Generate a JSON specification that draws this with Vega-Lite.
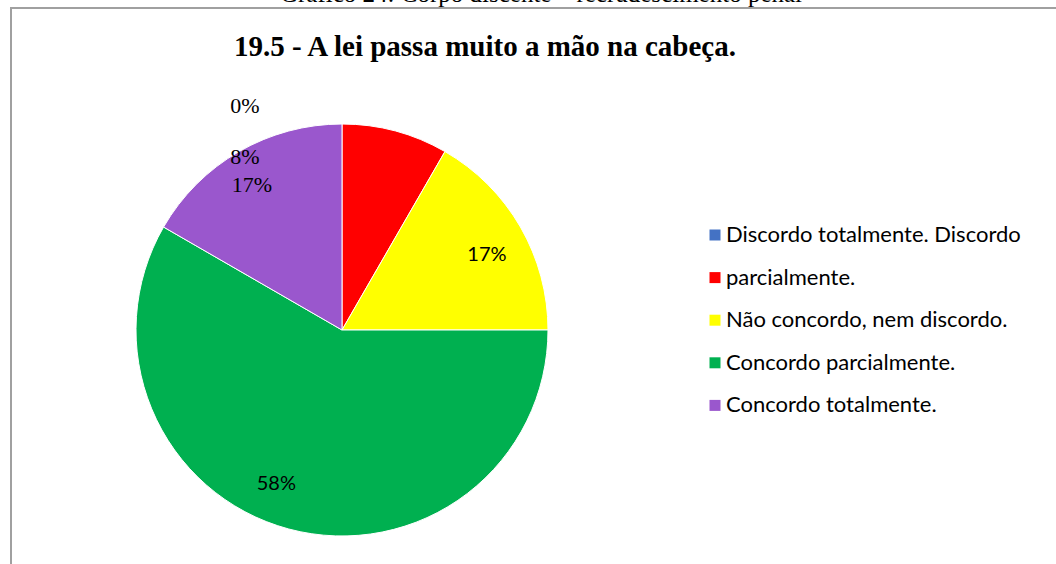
{
  "$schema": "https://vega.github.io/schema/vega-lite/v6.json",
  "padding": {"left": 10, "top": -18, "right": 0, "bottom": 0},
  "background": "white",
  "title": {"text": "Gráfico 24: Corpo discente – recrudescimento penal", "font": "Liberation Serif", "fontSize": 25, "fontWeight": "normal", "color": "black", "anchor": "middle", "offset": 0},
  "datasets": {
    "d": [
      {"cat": "Discordo totalmente.", "ord": 1, "pct": 0},
      {"cat": "Discordo parcialmente.", "ord": 2, "pct": 0.0833},
      {"cat": "Não concordo, nem discordo.", "ord": 3, "pct": 0.1667},
      {"cat": "Concordo parcialmente.", "ord": 4, "pct": 0.5833},
      {"cat": "Concordo totalmente.", "ord": 5, "pct": 0.1667}
    ]
  },
  "vconcat": [
    {
      "width": 1060,
      "height": 580,
      "view": {"stroke": "#a0a0a0", "strokeWidth": 2},
      "title": {"text": "19.5 - A lei passa muito a mão na cabeça.", "font": "Liberation Serif", "fontSize": 29, "fontWeight": "bold", "color": "black", "anchor": "middle", "offset": -54, "dx": -56},
      "data": {"name": "d"},
      "encoding": {
        "theta": {"field": "pct", "type": "quantitative", "stack": true},
        "order": {"field": "ord", "type": "quantitative"}
      },
      "layer": [
        {
          "mark": {"type": "arc", "x": 331, "y": 322, "outerRadius": 206, "stroke": "white", "strokeWidth": 1},
          "encoding": {
            "color": {
              "field": "cat",
              "type": "nominal",
              "scale": {
                "domain": ["Discordo totalmente.", "Discordo parcialmente.", "Não concordo, nem discordo.", "Concordo parcialmente.", "Concordo totalmente."],
                "range": ["#4472C4", "#FF0000", "#FFFF00", "#00B050", "#9A57CD"]
              },
              "legend": {
                "orient": "none",
                "legendX": 693,
                "legendY": 216,
                "direction": "vertical",
                "title": null,
                "padding": 0,
                "labelFont": "Lato",
                "labelFontSize": 22,
                "labelColor": "black",
                "labelLimit": 500,
                "labelOffset": 0,
                "symbolType": "square",
                "symbolSize": 121,
                "symbolStrokeWidth": 0,
                "rowPadding": 20.6,
                "labelExpr": "datum.label === 'Discordo totalmente.' ? 'Discordo totalmente. Discordo' : datum.label === 'Discordo parcialmente.' ? 'parcialmente.' : datum.label"
              }
            }
          }
        },
        {
          "mark": {"type": "text", "x": 331, "y": 322, "radius": 170, "font": "Liberation Serif", "fontSize": 22, "color": "black", "dx": -97, "dy": -54},
          "encoding": {"text": {"condition": {"test": "datum.cat === 'Discordo totalmente.'", "field": "pct", "format": ".0%"}, "value": ""}}
        },
        {
          "mark": {"type": "text", "x": 331, "y": 322, "radius": 170, "font": "Liberation Serif", "fontSize": 22, "color": "black", "dx": -141, "dy": -9},
          "encoding": {"text": {"condition": {"test": "datum.cat === 'Discordo parcialmente.'", "field": "pct", "format": ".0%"}, "value": ""}}
        },
        {
          "mark": {"type": "text", "x": 331, "y": 322, "radius": 170, "font": "Liberation Serif", "fontSize": 22, "color": "black", "dx": -5, "dy": 2},
          "encoding": {"text": {"condition": {"test": "datum.cat === 'Concordo totalmente.'", "field": "pct", "format": ".0%"}, "value": ""}}
        },
        {
          "mark": {"type": "text", "x": 331, "y": 322, "radius": 165, "font": "Lato", "fontSize": 20, "color": "black", "dx": 2, "dy": 8},
          "encoding": {"text": {"condition": {"test": "datum.cat === 'Não concordo, nem discordo.'", "field": "pct", "format": ".0%"}, "value": ""}}
        },
        {
          "mark": {"type": "text", "x": 331, "y": 322, "radius": 165, "font": "Lato", "fontSize": 20, "color": "black", "dx": -23, "dy": -5},
          "encoding": {"text": {"condition": {"test": "datum.cat === 'Concordo parcialmente.'", "field": "pct", "format": ".0%"}, "value": ""}}
        }
      ]
    }
  ]
}
